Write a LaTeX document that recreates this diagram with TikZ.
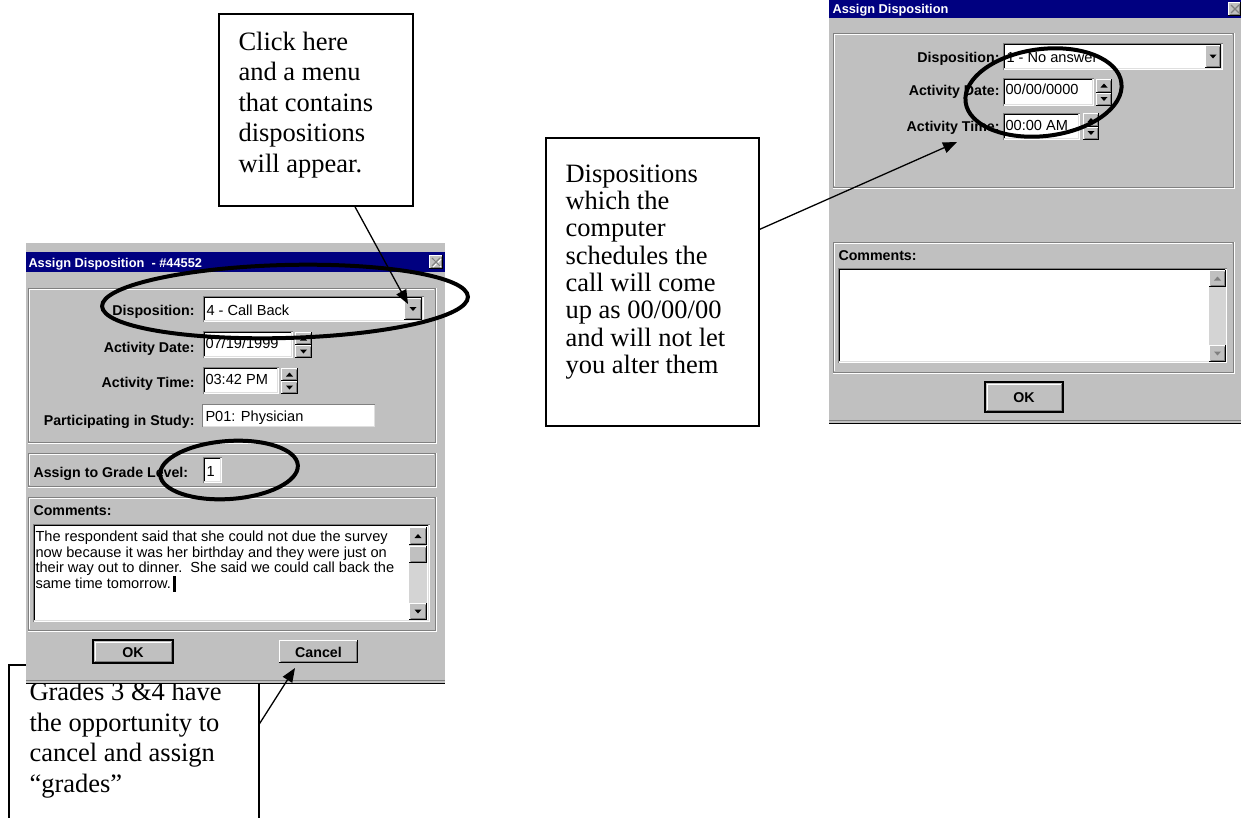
\documentclass[tikz,border=0pt]{standalone}
\usepackage{fontspec}
\setmainfont{Liberation Serif}
\newfontfamily\uisans{Liberation Sans}
\usetikzlibrary{arrows.meta,shapes.geometric}
\definecolor{wgray}{HTML}{C0C0C0}
\definecolor{wdark}{HTML}{808080}
\definecolor{wblue}{HTML}{000080}
\definecolor{wlight}{HTML}{DFDFDF}
\definecolor{wtrack}{HTML}{D4D4D4}
% raised 3D box
\newcommand\wraised[4]{%
  \fill[wgray] (#1,#2) rectangle (#3,#4);
  \draw[white] (#1+0.5,#4-1) -- (#1+0.5,#2+0.5) -- (#3-1,#2+0.5);
  \draw[wdark] (#1+1.5,#4-1.5) -- (#3-1.5,#4-1.5) -- (#3-1.5,#2+1.5);
  \draw[black] (#1,#4-0.5) -- (#3-0.5,#4-0.5) -- (#3-0.5,#2);
}
% default (outlined) button
\newcommand\wdefbtn[4]{%
  \fill[wgray] (#1,#2) rectangle (#3,#4);
  \draw[black,line width=1.5] (#1,#2) rectangle (#3,#4);
  \draw[white] (#1+2,#4-2) -- (#1+2,#2+2) -- (#3-2,#2+2);
  \draw[wdark] (#1+2,#4-2) -- (#3-2,#4-2) -- (#3-2,#2+2);
}
% sunken white field
\newcommand\wsunken[4]{%
  \fill[white] (#1,#2) rectangle (#3,#4);
  \draw[wdark] (#1+0.5,#4) -- (#1+0.5,#2+0.5) -- (#3,#2+0.5);
  \draw[black] (#1+1.5,#4-1) -- (#1+1.5,#2+1.5) -- (#3-1,#2+1.5);
  \draw[wlight] (#1+1,#4-1.5) -- (#3-1.5,#4-1.5) -- (#3-1.5,#2+1);
}
% etched group frame
\newcommand\wetched[4]{%
  \draw[wdark] (#1,#2) rectangle (#3,#4);
  \draw[white] (#1+1,#4-1) -- (#1+1,#2+1) -- (#3-1,#2+1);
  \draw[white] (#1,#4+1) -- (#3+1,#4+1) -- (#3+1,#2);
}
\newcommand\wdown[3]{\fill[#3] (#1-3.5,#2-2) -- (#1+3.5,#2-2) -- (#1,#2+2) -- cycle;}
\newcommand\wup[3]{\fill[#3] (#1-3.5,#2+2) -- (#1+3.5,#2+2) -- (#1,#2-2) -- cycle;}
\begin{document}
\begin{tikzpicture}[x=1pt,y=-1pt,line width=1pt,
  uilab/.style={font=\uisans\bfseries\fontsize{14.2}{16}\selectfont, inner sep=0},
  uitxt/.style={font=\uisans\fontsize{14.6}{15.4}\selectfont, inner sep=0},
  uititle/.style={font=\uisans\bfseries\fontsize{12.8}{15}\selectfont, text=white, inner sep=0},
  callout/.style={draw, line width=1.5, fill=white, inner sep=0, anchor=north west},
  note/.style={font=\fontsize{26.5}{30.5}\selectfont, align=left, inner sep=0, anchor=north west},
  ring/.style={ellipse, draw, line width=4, inner sep=0},
  arr/.style={-{Triangle[length=14,width=11]}, line width=1.3}]
\useasboundingbox (0,0) rectangle (1241,817);
\fill[white] (0,0) rectangle (1241,817);

% ---------- bottom-left callout (behind dialog) ----------
\node[callout, minimum width=250, minimum height=176] (gradebox) at (8,664) {};
\node[note] (gradetxt) at (29,682) {Grades 3 \&4 have\\the opportunity to\\cancel and assign\\“grades”};

% ---------- left dialog ----------
\fill[wgray] (26,243) rectangle (445,684);
\draw[wdark] (26,680.5) -- (445,680.5);
\draw[black,line width=1.5] (26,683.5) -- (445,683.5);
\fill[wblue] (26,252) rectangle (445,272);
\node[uititle, anchor=base west] (ltitle) at (28,267) {Assign Disposition\ \ - \#44552};
\wraised{429}{255}{443}{269}
\draw[white,line width=1.3] (433,259) -- (441,267) (441,259) -- (433,267);
\draw[wdark,line width=1.3] (432,258) -- (440,266) (440,258) -- (432,266);

\wetched{28}{288}{435}{442}
\node[uilab, anchor=base east] (ldisp) at (195,315) {Disposition:};
\wsunken{203}{296}{424}{322}
\node[uitxt, anchor=base west] (ldispv) at (206,315) {4 - Call Back};
\wraised{404}{298}{422}{320}
\wdown{413}{309}{black}

\node[uilab, anchor=base east] (ldate) at (195,352) {Activity Date:};
\wsunken{203}{331}{293}{358}
\node[uitxt, anchor=base west] (ldatev) at (205,348) {07/19/1999};
\wraised{295}{332}{312}{345}
\wup{303.5}{338.5}{black}
\wraised{295}{345}{312}{358}
\wdown{303.5}{351.5}{black}

\node[uilab, anchor=base east] (ltime) at (195,387) {Activity Time:};
\wsunken{203}{367}{279}{394}
\node[uitxt, anchor=base west] (ltimev) at (205,384) {03:42 PM};
\wraised{281}{368}{298}{381}
\wup{289.5}{374.5}{black}
\wraised{281}{381}{298}{394}
\wdown{289.5}{387.5}{black}

\node[uilab, anchor=base east] (lstudy) at (195,425) {Participating in Study:};
\fill[white] (202,404) rectangle (375,427);
\draw[wdark] (202.5,427) -- (202.5,404.5) -- (375,404.5);
\draw[wlight] (203,426.5) -- (374.5,426.5) -- (374.5,405);
\node[uitxt, anchor=base west] (lstudyv) at (205,421) {P01: Physician};

\wetched{28}{453}{435}{486}
\node[uilab, anchor=base west] (lgrade) at (33,477) {Assign to Grade Level:};
\wsunken{203}{457}{222}{483}
\node[uitxt, anchor=base west] (lgradev) at (206,476) {1};

\wetched{28}{497}{435}{630}
\node[uilab, anchor=base west] (lcomm) at (33,515) {Comments:};
\wsunken{33}{524}{430}{622}
\node[uitxt, anchor=base west] (lc1) at (35,541.5) {The respondent said that she could not due the survey};
\node[uitxt, anchor=base west] (lc2) at (35,557) {now because it was her birthday and they were just on};
\node[uitxt, anchor=base west] (lc3) at (35,572.5) {their way out to dinner.\ \ She said we could call back the};
\node[uitxt, anchor=base west] (lc4) at (35,588) {same time tomorrow.};
\fill[black] (173,576) rectangle (175.5,592);
\fill[wtrack] (409,527) rectangle (427,620);
\wraised{409}{527}{427}{545}
\wup{418}{536}{black}
\wraised{409}{546}{427}{563}
\wraised{409}{603}{427}{620}
\wdown{418}{611.5}{black}

\wdefbtn{93}{640}{173}{663}
\node[uilab, anchor=base] (lok) at (133,657) {OK};
\wraised{279}{640}{358}{663}
\node[uilab, anchor=base] (lcancel) at (318.5,657) {Cancel};

% ---------- right dialog ----------
\fill[wgray] (829,0) rectangle (1241,424);
\draw[wdark] (829,420.5) -- (1241,420.5);
\draw[black,line width=1.5] (829,423.5) -- (1241,423.5);
\fill[wblue] (829,0) rectangle (1241,18);
\node[uititle, anchor=base west] (rtitle) at (832,13.5) {Assign Disposition};
\wraised{1228}{2}{1241}{16}
\draw[wdark,line width=1.3] (1231,5) -- (1239,13) (1239,5) -- (1231,13);

\wetched{833}{33}{1233}{187}
\node[uilab, anchor=base east] (rdisp) at (1000,62) {Disposition:};
\wsunken{1003}{43}{1223}{70}
\node[uitxt, anchor=base west] (rdispv) at (1006,62) {1 - No answer};
\wraised{1205}{45}{1221}{68}
\wdown{1213}{56.5}{black}

\node[uilab, anchor=base east] (rdate) at (1000,95) {Activity Date:};
\wsunken{1003}{78}{1094}{106}
\node[uitxt, anchor=base west] (rdatev) at (1005,94) {00/00/0000};
\wraised{1096}{79}{1112}{92.5}
\wup{1104}{85.5}{black}
\wraised{1096}{92.5}{1112}{106}
\wdown{1104}{99}{black}

\node[uilab, anchor=base east] (rtime) at (1000,131) {Activity Time:};
\wsunken{1003}{113}{1080}{140}
\node[uitxt, anchor=base west] (rtimev) at (1005,130) {00:00 AM};
\wraised{1083}{113}{1099}{126.5}
\wup{1091}{120}{black}
\wraised{1083}{126.5}{1099}{140}
\wdown{1091}{133}{black}

\wetched{833}{242}{1233}{372}
\node[uilab, anchor=base west] (rcomm) at (838,260) {Comments:};
\wsunken{838}{268}{1227}{363}
\fill[wtrack] (1209,270) rectangle (1226,361);
\wraised{1209}{270}{1226}{287}
\wup{1217.5}{278.5}{wdark}
\wraised{1209}{345}{1226}{362}
\wdown{1217.5}{353.5}{wdark}

\wdefbtn{985}{382}{1063}{412}
\node[uilab, anchor=base] (rok) at (1024,402) {OK};

% ---------- callouts ----------
\node[callout, minimum width=194, minimum height=192] (clickbox) at (218,13) {};
\node[note] (clicktxt) at (238,31.2) {Click here\\and a menu\\that contains\\dispositions\\will appear.};

\node[callout, minimum width=213, minimum height=288] (dispbox) at (545,137) {};
\node[note, font=\fontsize{26.5}{27.3}\selectfont] (disptxt) at (565,164.2) {Dispositions\\which the\\computer\\schedules the\\call will come\\up as 00/00/00\\and will not let\\you alter them};

% ---------- highlight rings ----------
\node[ring, minimum width=366, minimum height=73, rotate=1.5] (ring1) at (285,301.5) {};
\node[ring, minimum width=138, minimum height=58, rotate=4] (ring2) at (229,470) {};
\node[ring, minimum width=157, minimum height=87, rotate=7] (ring3) at (1043.5,92.5) {};

% ---------- connectors ----------
\coordinate (ddtip) at (408,304);
\coordinate (timetip) at (957,142);
\coordinate (canceltip) at (295,668);
\draw[arr] (clickbox.-68.4) -- (ddtip);
\draw[arr] (dispbox.26) -- (timetip);
\draw[arr] (gradebox.13.5) -- (canceltip);
\end{tikzpicture}
\end{document}
